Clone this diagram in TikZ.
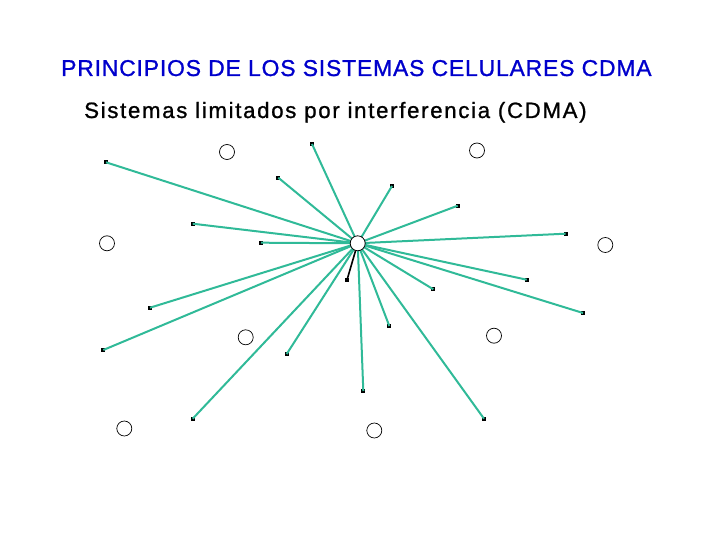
\documentclass[tikz,border=0pt]{standalone}
\usepackage{fontspec}
\setmainfont{Liberation Sans}
\newfontfamily\titlefont[LetterSpace=3.6,FakeBold=1]{Liberation Sans}
\newfontfamily\subfont[LetterSpace=7.6,FakeBold=1]{Liberation Sans}
\definecolor{teal1}{RGB}{48,186,152}
\definecolor{titleblue}{RGB}{0,0,204}
\begin{document}
\begin{tikzpicture}[x=1bp,y=-1bp,
  cell/.style={circle,draw=black,line width=0.7bp,minimum size=15bp,inner sep=0pt},
  base/.style={circle,draw=black,fill=white,line width=0.8bp,minimum size=15bp,inner sep=0pt},
  mob/.style={rectangle,fill=black,minimum size=3.8bp,inner sep=0pt},
  link/.style={draw=teal1,line width=2bp},
  own/.style={draw=black,line width=1.6bp}]
\useasboundingbox (0,0) rectangle (720,540);
\node[anchor=base west,inner sep=0pt,text=titleblue,font=\titlefont\fontsize{23}{27}\selectfont] (title) at (61,76) {PRINCIPIOS DE LOS SISTEMAS CELULARES CDMA};
\node[anchor=base west,inner sep=0pt,text=black,font=\subfont\fontsize{22.3}{26}\selectfont] (sub) at (84,118) {Sistemas limitados por interferencia (CDMA)};
% cells
\node[cell] (k1) at (227,152) {};
\node[cell] (k2) at (477,150.5) {};
\node[cell] (k3) at (107,243.3) {};
\node[cell] (k4) at (605.3,245) {};
\node[cell] (k5) at (245.7,337.3) {};
\node[cell] (k6) at (494,335.7) {};
\node[cell] (k7) at (124.3,428.5) {};
\node[cell] (k8) at (374.3,430.5) {};
% mobiles
\node[mob] (e1) at (106,162.3) {};
\node[mob] (e2) at (312,144) {};
\node[mob] (e3) at (278.3,177.7) {};
\node[mob] (e4) at (392,186) {};
\node[mob] (e5) at (457.7,205.7) {};
\node[mob] (e6) at (192.7,223.7) {};
\node[mob] (e7) at (261,242.7) {};
\node[mob] (e8) at (565.7,233.7) {};
\node[mob] (e9) at (526.7,279.7) {};
\node[mob] (e10) at (433.3,289.3) {};
\node[mob] (e11) at (583,313) {};
\node[mob] (e12) at (150,307.7) {};
\node[mob] (e13) at (389.3,326) {};
\node[mob] (e14) at (103.3,350) {};
\node[mob] (e15) at (286.7,354) {};
\node[mob] (e16) at (363.3,391) {};
\node[mob] (e17) at (192.7,418.7) {};
\node[mob] (e18) at (484,418.7) {};
\node[mob] (m) at (347,280) {};
% base station
\coordinate (cc) at (357.7,243.3);
\foreach \i in {1,...,18} {\draw[link] (cc) -- (e\i.center);}
\node[base] (c) at (cc) {};
\draw[own] (c) -- (m.center);
\end{tikzpicture}
\end{document}
